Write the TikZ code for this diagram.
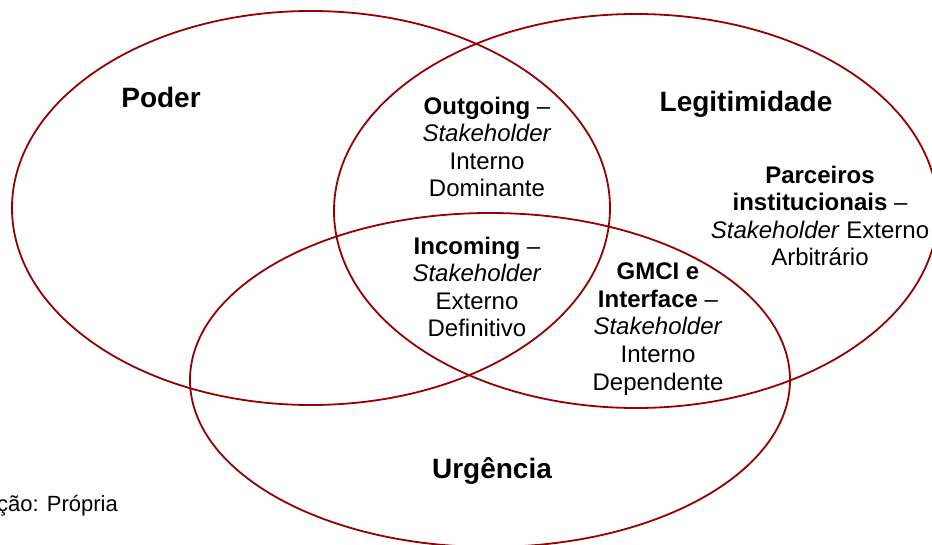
\documentclass[tikz,border=0pt]{standalone}
\usepackage{fontspec}
\setmainfont{Liberation Sans}
\definecolor{setred}{RGB}{150,0,0}
\begin{document}
\begin{tikzpicture}[x=1pt,y=-1pt,
  setline/.style={draw=setred, line width=1.8pt},
  heading/.style={font=\fontsize{28}{32}\selectfont\bfseries, anchor=base, inner sep=0pt},
  zone/.style={font=\fontsize{24}{27.6}\selectfont, align=center, anchor=base, inner sep=0pt},
  note/.style={font=\fontsize{22}{25}\selectfont, anchor=base east, inner sep=0pt}]
\useasboundingbox (0,0) rectangle (932,545);
\fill[white] (0,0) rectangle (932,545);

% the three attribute sets
\draw[setline] (311,208) ellipse [x radius=299pt, y radius=197pt];
\draw[setline] (636,211) ellipse [x radius=302pt, y radius=197pt];
\draw[setline] (490,380) ellipse [x radius=300pt, y radius=167pt];

% set names
\node[heading] (poder) at (161,108) {Poder};
\node[heading] (legit) at (746,112) {Legitimidade};
\node[heading] (urg) at (492,478) {Urgência};

% stakeholder classes (positions give the baseline of the last line)
\node[zone] (outgoing) at (487,197)
  {\textbf{Outgoing} –\\\textit{Stakeholder}\\Interno\\Dominante};
\node[zone] (incoming) at (477,337)
  {\textbf{Incoming} –\\\textit{Stakeholder}\\Externo\\Definitivo};
\node[zone] (gmci) at (658,390)
  {\textbf{GMCI e}\\\textbf{Interface} –\\\textit{Stakeholder}\\Interno\\Dependente};
\node[zone] (parceiros) at (820,266)
  {\textbf{Parceiros}\\\textbf{institucionais} –\\\textit{Stakeholder} Externo\\Arbitrário};

% source line
\node[note] (fonte) at (118,511) {ção: Própria};
\end{tikzpicture}
\end{document}
